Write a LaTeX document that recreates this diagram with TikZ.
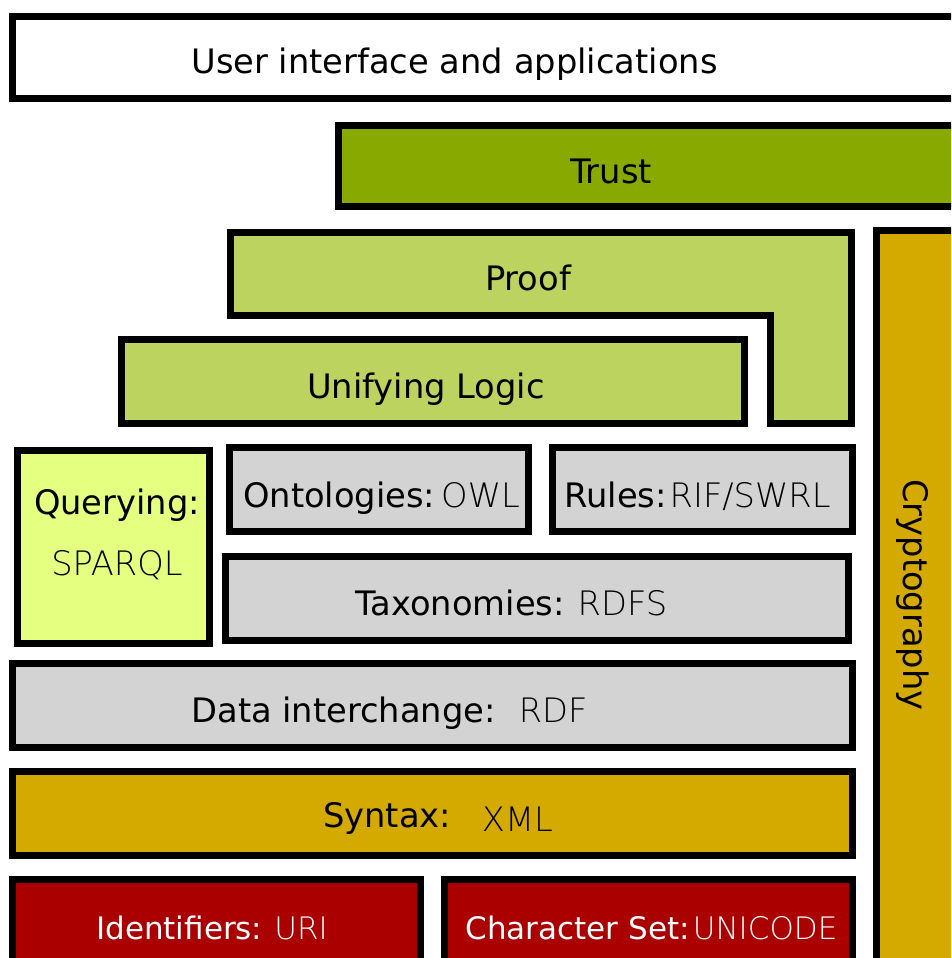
\documentclass[tikz,border=0pt]{standalone}
\usepackage{fontspec}
\setmainfont{DejaVu Sans}
\newfontfamily\thinfont{DejaVu Sans ExtraLight}
\usepackage{xcolor}
\definecolor{trustgreen}{HTML}{88AA00}
\definecolor{logicgreen}{HTML}{BCD35F}
\definecolor{querylime}{HTML}{E5FF80}
\definecolor{stackgray}{HTML}{D3D3D3}
\definecolor{syntaxgold}{HTML}{D4AA00}
\definecolor{basered}{HTML}{AA0000}
\begin{document}
\begin{tikzpicture}[x=1pt,y=-1pt,
  layer/.style={draw=black, line width=7pt},
  lbl/.style={font=\fontsize{33.7}{40}\selectfont, anchor=base, inner sep=0pt},
  small lbl/.style={lbl, font=\fontsize{31}{38}\selectfont, text=white}]
\useasboundingbox (0,0) rectangle (951,958);
\clip (0,0) rectangle (951,958);
% layers, top to bottom
\draw[layer, fill=white] (12.5,16.5) rectangle (970,98.5);
\draw[layer, fill=trustgreen] (338.5,125.5) rectangle (970,206.5);
\draw[layer, fill=logicgreen] (230.5,232.5) -- (851.5,232.5) -- (851.5,423.5) -- (770.5,423.5) -- (770.5,315.5) -- (230.5,315.5) -- cycle;
\draw[layer, fill=logicgreen] (121,339.5) rectangle (744,423.5);
\draw[layer, fill=syntaxgold] (876.5,230.5) rectangle (970,970);
\draw[layer, fill=querylime] (17,450.5) rectangle (209.5,643.5);
\draw[layer, fill=stackgray] (229,447.5) rectangle (528.5,531.5);
\draw[layer, fill=stackgray] (552.5,447.5) rectangle (852.5,531.5);
\draw[layer, fill=stackgray] (225.5,556.5) rectangle (848,640.5);
\draw[layer, fill=stackgray] (12.5,663.5) rectangle (852.5,747.5);
\draw[layer, fill=syntaxgold] (12.5,771.5) rectangle (852.5,855.5);
\draw[layer, fill=basered] (12.5,879.5) rectangle (420.5,970);
\draw[layer, fill=basered] (444,879.5) rectangle (852.5,970);
% labels
\node[lbl] (ui) at (454.5,74) {User interface and applications};
\node[lbl] (trust) at (611,183) {Trust};
\node[lbl] (proof) at (528,290) {Proof};
\node[lbl] (logic) at (426,398) {Unifying Logic};
\node[lbl] (query) at (117,514) {Querying:};
\node[lbl] (sparql) at (117,575) {\thinfont SPARQL};
\node[lbl] (owl) at (381.5,507) {Ontologies:\hspace{6pt}\thinfont OWL};
\node[lbl] (rules) at (697.5,507) {Rules:\hspace{3pt}\thinfont RIF/SWRL};
\node[lbl] (rdfs) at (511.5,615) {Taxonomies:\hspace{13pt}\thinfont RDFS};
\node[lbl] (rdf) at (389.5,722) {Data interchange:\hspace{23pt}\thinfont RDF};
\node[lbl] (xml) at (438,827) {Syntax:\hspace{31pt}\raisebox{-4pt}{\thinfont XML}};
\node[small lbl] (uri) at (212,939) {Identifiers:\hspace{12pt}\thinfont URI};
\node[small lbl] (unicode) at (651.5,939) {Character Set:\hspace{3pt}\thinfont UNICODE};
\node[lbl, rotate=-90, anchor=center] (crypto) at (913,595) {Cryptography};
\end{tikzpicture}
\end{document}
